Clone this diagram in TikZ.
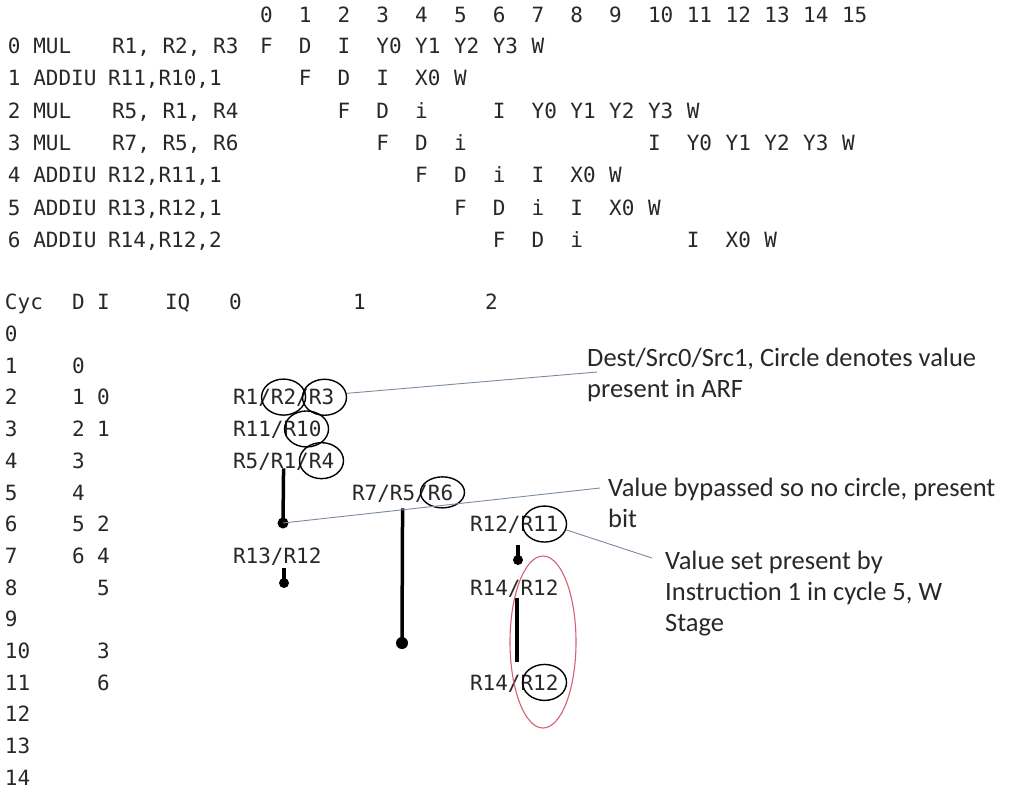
\documentclass[tikz,border=0pt]{standalone}
\usepackage{fontspec}
\usetikzlibrary{positioning,shapes.geometric}
\newfontfamily\monofont{DejaVu Sans Mono}
\newfontfamily\notefont{Carlito}
\definecolor{ink}{RGB}{40,40,40}
\definecolor{leadc}{RGB}{120,140,160}
\definecolor{redc}{RGB}{214,96,116}
\tikzset{
  mono/.style={font=\monofont\fontsize{21}{25}\selectfont, text=ink, inner sep=0pt, outer sep=0pt, anchor=base west},
  note/.style={font=\notefont\fontsize{26.5}{31}\selectfont, text=ink, inner sep=0pt, anchor=north west, align=left},
  ring/.style={draw=black, line width=1.4pt, ellipse, minimum width=44pt, minimum height=36pt, inner sep=0pt},
  bar/.style={line width=3.5pt, draw=black},
  lead/.style={draw=leadc, line width=0.9pt},
  redring/.style={draw=redc, line width=1.1pt}
}
\begin{document}
\begin{tikzpicture}[x=1pt,y=-1pt]
  \fill[white] (0,0) rectangle (1019,793);

  % Cycle numbers of the pipeline table
  \foreach \c in {0,...,15}
    \node[mono] (h\c) at ({260+38.8*\c},22.5) {\c};

  % Instructions
  \foreach \r/\op/\args/\ax in {0/MUL/{R1, R2, R3}/112, 1/ADDIU/{R11,R10,1}/108,
      2/MUL/{R5, R1, R4}/112, 3/MUL/{R7, R5, R6}/112, 4/ADDIU/{R12,R11,1}/108,
      5/ADDIU/{R13,R12,1}/108, 6/ADDIU/{R14,R12,2}/108}{
    \node[mono] (op\r) at (8,{53.5+32.3*\r}) {\r\ \op};
    \node[mono] (arg\r) at (\ax,{53.5+32.3*\r}) {\args};
  }

  % Stages
  \foreach \r/\cells in {
      0/{0/F,1/D,2/I,3/Y0,4/Y1,5/Y2,6/Y3,7/W},
      1/{1/F,2/D,3/I,4/X0,5/W},
      2/{2/F,3/D,4/i,6/I,7/Y0,8/Y1,9/Y2,10/Y3,11/W},
      3/{3/F,4/D,5/i,10/I,11/Y0,12/Y1,13/Y2,14/Y3,15/W},
      4/{4/F,5/D,6/i,7/I,8/X0,9/W},
      5/{5/F,6/D,7/i,8/I,9/X0,10/W},
      6/{6/F,7/D,8/i,11/I,12/X0,13/W}}
    \foreach \c/\s in \cells
      \node[mono] (s\r-\c) at ({260+38.8*\c},{53.5+32.3*\r}) {\s};

  % Issue queue table
  \node[mono] (cyc) at (5,309.5) {Cyc};
  \node[mono] (hd) at (72,309.5) {D};
  \node[mono] (hi) at (97,309.5) {I};
  \node[mono] (hq) at (165,309.5) {IQ};
  \node[mono] (hq0) at (229,309.5) {0};
  \node[mono] (hq1) at (353,309.5) {1};
  \node[mono] (hq2) at (485,309.5) {2};
  \foreach \k in {0,...,14}
    \node[mono] (cy\k) at (5,{341.5+31.7*\k}) {\k};
  \foreach \k/\v in {1/0,2/1,3/2,4/3,5/4,6/5,7/6}
    \node[mono] (dc\k) at (72,{341.5+31.7*\k}) {\v};
  \foreach \k/\v in {2/0,3/1,6/2,7/4,8/5,10/3,11/6}
    \node[mono] (ic\k) at (97,{341.5+31.7*\k}) {\v};

  % Queue entries
  \node[mono] (q2a) at (233,404.9) {R1/};
  \node[mono, base right=0pt of q2a] (q2b) {R2};
  \node[mono, base right=0pt of q2b] (q2c) {/};
  \node[mono, base right=0pt of q2c] (q2d) {R3};
  \node[mono] (q3a) at (233,436.6) {R11/};
  \node[mono, base right=0pt of q3a] (q3b) {R10};
  \node[mono] (q4a) at (233,468.3) {R5/};
  \node[mono, base right=0pt of q4a] (q4b) {R1};
  \node[mono, base right=0pt of q4b] (q4c) {/};
  \node[mono, base right=0pt of q4c] (q4d) {R4};
  \node[mono] (q5a) at (352,500) {R7/};
  \node[mono, base right=0pt of q5a] (q5b) {R5};
  \node[mono, base right=0pt of q5b] (q5c) {/};
  \node[mono, base right=0pt of q5c] (q5d) {R6};
  \node[mono] (q6a) at (470,531.7) {R12/};
  \node[mono, base right=0pt of q6a] (q6b) {R11};
  \node[mono] (q7a) at (233,563.4) {R13/};
  \node[mono, base right=0pt of q7a] (q7b) {R12};
  \node[mono] (q8a) at (470,595.1) {R14/};
  \node[mono, base right=0pt of q8a] (q8b) {R12};
  \node[mono] (q11a) at (470,690.2) {R14/};
  \node[mono, base right=0pt of q11a] (q11b) {R12};

  % Circles: value present in ARF
  \node[ring] (c2b) at (q2b) {};
  \node[ring] (c2d) at ([xshift=3pt]q2d) {};
  \node[ring] (c3b) at ([xshift=4pt]q3b) {};
  \node[ring] (c4d) at (q4d) {};
  \node[ring, minimum height=31pt] (c5d) at ([xshift=2pt]q5d) {};
  \node[ring] (c6b) at ([xshift=5pt]q6b) {};
  \node[ring] (c11b) at ([xshift=5pt]q11b) {};

  % Wake-up bars
  \coordinate (d4) at (283,523);
  \coordinate (d5) at (402,643);
  \coordinate (t6) at (518,545);
  \coordinate (d6) at (518,560);
  \coordinate (t7) at (284,568);
  \coordinate (d7) at (284,583);
  \coordinate (t8) at (517,598);
  \coordinate (b8) at (517,662);
  \draw[bar] (q4b.south) -- (d4);
  \draw[bar] ([yshift=-8pt]q5b.south) -- (d5);
  \draw[bar] (t6) -- (d6);
  \draw[bar] (t7) -- (d7);
  \draw[bar] (t8) -- (b8);
  \fill (d4) circle (5.5pt);
  \fill (d5) circle (6pt);
  \fill (d6) circle (5pt);
  \fill (d7) circle (5pt);

  \coordinate (rc) at (543,642);
  \draw[redring] (rc) ellipse [x radius=33, y radius=86];

  % Notes
  \node[note] (n1) at (587,348) {Dest/Src0/Src1, Circle denotes value\\present in ARF};
  \node[note] (n2) at (608,478) {Value bypassed so no circle, present\\bit};
  \node[note] (n3) at (665,551) {Value set present by\\Instruction 1 in cycle 5, W\\Stage};
  \coordinate (e1) at (597,372);
  \coordinate (e2) at (600,488);
  \coordinate (e3) at (652,558);
  \draw[lead] (c2d.10) -- (e1);
  \draw[lead] (d4) -- (e2);
  \draw[lead] (c6b.-15) -- (e3);
\end{tikzpicture}
\end{document}
